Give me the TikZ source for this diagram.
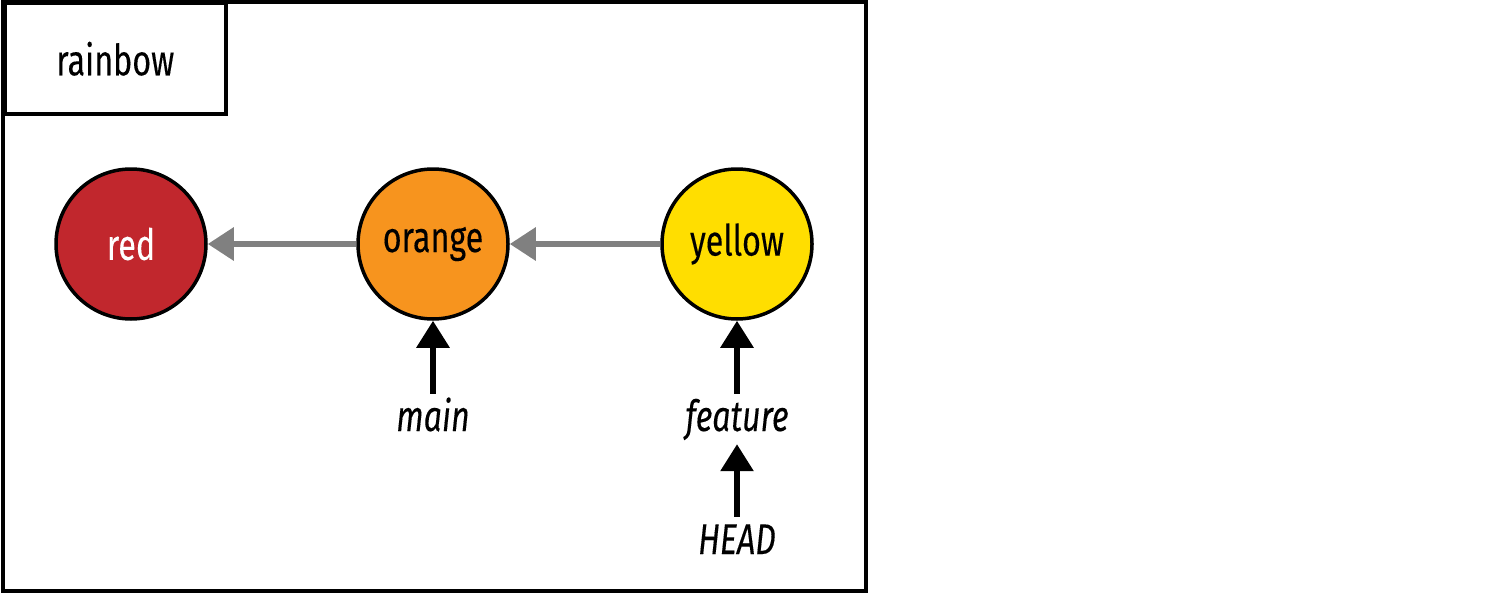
\documentclass[tikz,border=0pt]{standalone}
\usepackage{fontspec}
\setmainfont{Fira Sans}[FakeStretch=0.75, FakeBold=0.15]
\usetikzlibrary{arrows.meta}
\definecolor{cred}{RGB}{193,39,45}
\definecolor{corange}{RGB}{247,148,30}
\definecolor{cyellow}{RGB}{255,222,0}
\definecolor{cgray}{RGB}{128,128,128}
\tikzset{
  bigfont/.style={font=\fontsize{43}{50}\selectfont},
  commit/.style={circle, draw=black, line width=3.5pt, minimum size=150pt, inner sep=0pt, bigfont},
  refname/.style={inner sep=3pt, text height=34pt, text depth=10pt, anchor=base, font=\fontsize{43}{50}\selectfont\itshape},
  parentarrow/.style={draw=cgray, line width=6pt, -{Triangle[length=26pt, width=32pt]}},
  refarrow/.style={draw=black, line width=6pt, -{Triangle[length=27pt, width=32pt]}},
  frame/.style={draw=black, line width=4pt},
}
\begin{document}
\begin{tikzpicture}[x=1pt, y=-1pt]
\useasboundingbox (0,0) rectangle (1487,594);
\draw[frame] (3,2) rectangle (866,591);
\node[draw=black, line width=3.5pt, minimum width=221pt, minimum height=110pt, anchor=north west, inner sep=0pt, bigfont] (repo) at (3,2) {rainbow};
\node[commit, fill=cred, text=white] (red) at (131,244) {red};
\node[commit, fill=corange] (orange) at (433,244) {orange};
\node[commit, fill=cyellow] (yellow) at (737,244) {yellow};
\node[refname] (main) at (433,431) {main};
\node[refname] (feature) at (737,431) {feature};
\node[refname] (head) at (737,554) {HEAD};
\draw[parentarrow] (orange.west) -- (red.east);
\draw[parentarrow] (yellow.west) -- (orange.east);
\draw[refarrow] (main.north) -- (orange.south);
\draw[refarrow] (feature.north) -- (yellow.south);
\draw[refarrow] (head.north) -- (feature.south);
\end{tikzpicture}
\end{document}
